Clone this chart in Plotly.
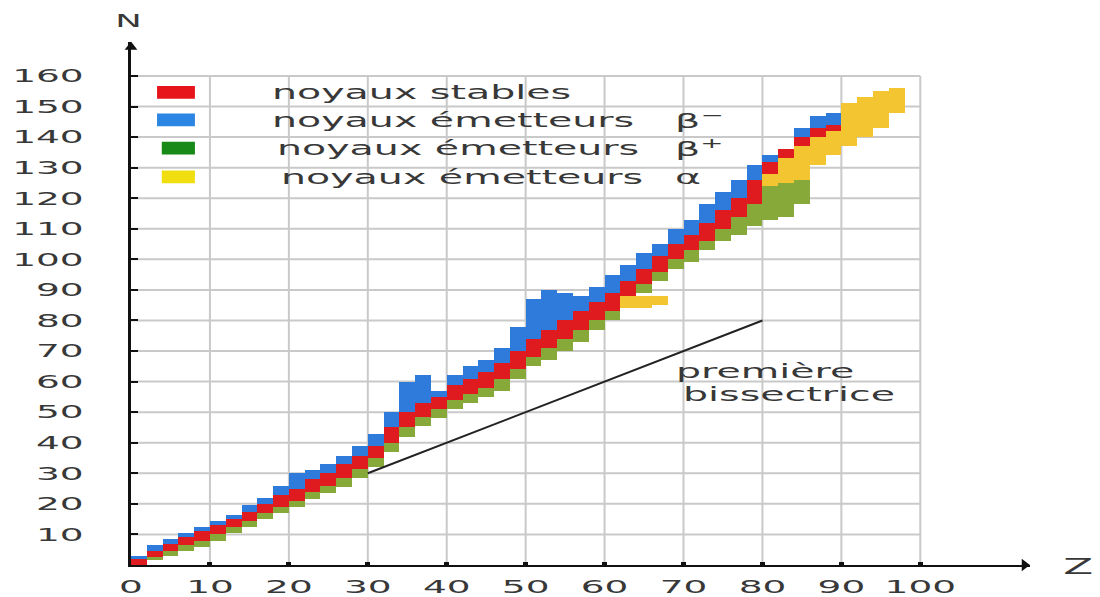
import plotly.graph_objects as go

# ---------------- data ----------------
# Z bin centres (each bar spans 2 units of Z)
Z = list(range(1, 99, 2))

# neutron-number ranges per Z bin (None = absent)
beta_plus_lo = [None, 1.5, 3, 4.5, 6, 8, 10.5, 12.5, 15, 17, 19, 21.5, 23.5, 25.5, 28.5, 32,
                37, 42, 45.5, 48, 51, 53, 55, 57, 61, 65, 67, 70, 73, 77, 80, 84,
                89, 93, 97, 99, 103, 106, 108, 111, 113, 114, 118, None, None, None, None, None, None]
beta_plus_hi = [None, 2.5, 4.5, 6.5, 8, 10, 12.5, 14.5, 17, 19, 21, 24, 26, 28.5, 31.5, 35,
                40, 45, 48.5, 51, 54, 56, 58, 61, 64, 68, 71, 74, 77, 80, 83, 87,
                92, 96, 100, 103, 106, 110, 114, 118, 124, 125, 126, None, None, None, None, None, None]

stable_lo = [0, 2.5, 4.5, 6.5, 8, 10, 12.5, 14.5, 17, 19, 21, 24, 26, 28.5, 31.5, 35,
             40, 45, 48.5, 51, 54, 56, 58, 61, 64, 68, 71, 74, 77, 80, 83, 87,
             92, 96, 100, 103, 106, 110, 114, 118, 128, 133, 137, 140, 142, None, None, None, None]
stable_hi = [2, 4.5, 7, 9, 11, 13, 15, 17.5, 20, 23, 25, 28, 30, 33, 35.5, 39,
             45, 50, 53, 55, 59, 61, 63, 66, 70, 74, 77, 80, 83, 86, 89, 93,
             97, 101, 105, 108, 112, 116, 120, 126, 132, 136, 140, 143, 144, None, None, None, None]

beta_minus_lo = [2, 4.5, 7, 9, 11, 13, 15, 17.5, 20, 23, 25, 28, 30, 33, 35.5, 39,
                 45, 50, 53, 55, 59, 61, 63, 66, 70, 74, 77, 80, 83, 86, 89, 93,
                 97, 101, 105, 108, 112, 116, 120, 126, 132, None, 140, 143, 144, None, None, None, None]
beta_minus_hi = [3, 6.5, 8.5, 10.5, 12.5, 14.5, 16.5, 19.5, 22, 26, 30, 31, 33, 35.5, 39, 43,
                 50, 60, 62, 57, 62, 65, 67, 71, 78, 87, 90, 89, 88, 91, 95, 98,
                 102, 105, 110, 113, 118, 122, 126, 131, 134, None, 143, 147, 148, None, None, None, None]

alpha_lo = [None] * 40 + [124, 125, 126, 131, 134, 137, 140, 143, 148]
alpha_hi = [None] * 40 + [128, 133, 137, 140, 142, 151, 153, 155, 156]

# small group of alpha emitters near Z = 62-68
alpha_patch_z = [63, 65, 67]
alpha_patch_lo = [84, 84, 85]
alpha_patch_hi = [88, 88, 88]

# first bisector N = Z
bisector_z = [30, 80]
bisector_n = [30, 80]

x_ticks = list(range(0, 101, 10))
y_ticks = list(range(10, 161, 10))

legend_labels = ["noyaux stables", "noyaux émetteurs", "noyaux émetteurs", "noyaux émetteurs"]
legend_symbols = ["", "β<sup>−</sup>", "β<sup>+</sup>", "α"]

# ---------------- styles ----------------
C_RED = "#e01b1f"
C_BLUE = "#2f7bdc"
C_GREEN = "#86a93a"
C_YELLOW = "#f3c530"
LEG_COLORS = ["#e8141c", "#2a86e2", "#178a17", "#f0de10"]
FONT = "DejaVu Sans"
TXT = "#383838"
AXC = "#111111"

X_MAX = 113.9
Y_MAX = 171.1


def spans(lo, hi):
    return [None if (a is None or b is None) else b - a for a, b in zip(lo, hi)]


fig = go.Figure()


def add_band(zs, lo, hi, color, name):
    fig.add_trace(go.Bar(
        x=zs, y=spans(lo, hi), base=lo, width=2, name=name,
        marker=dict(color=color, line=dict(width=0)),
        showlegend=False, hoverinfo="x+y+name",
    ))


add_band(Z, beta_plus_lo, beta_plus_hi, C_GREEN, "β+")
add_band(Z, stable_lo, stable_hi, C_RED, "stables")
add_band(Z, beta_minus_lo, beta_minus_hi, C_BLUE, "β−")
add_band(Z, alpha_lo, alpha_hi, C_YELLOW, "α")
add_band(alpha_patch_z, alpha_patch_lo, alpha_patch_hi, C_YELLOW, "α")

fig.add_trace(go.Scatter(
    x=bisector_z, y=bisector_n, mode="lines",
    line=dict(color="#222222", width=2), showlegend=False, hoverinfo="skip",
))

# arrow heads at the ends of the axes
fig.add_trace(go.Scatter(
    x=[X_MAX - 0.7], y=[0], mode="markers", cliponaxis=False,
    marker=dict(symbol="triangle-right", size=11, color=AXC), showlegend=False, hoverinfo="skip",
))
fig.add_trace(go.Scatter(
    x=[0], y=[Y_MAX - 1.6], mode="markers", cliponaxis=False,
    marker=dict(symbol="triangle-up", size=11, color=AXC), showlegend=False, hoverinfo="skip",
))

# grid lines limited to the drawn area (0..100 x 0..160)
shapes = []
for xv in x_ticks[1:]:
    shapes.append(dict(type="line", xref="x", yref="y", x0=xv, x1=xv, y0=0, y1=160,
                       line=dict(color="#c9c9c9", width=2), layer="below"))
for yv in y_ticks:
    shapes.append(dict(type="line", xref="x", yref="y", x0=0, x1=100, y0=yv, y1=yv,
                       line=dict(color="#c9c9c9", width=2), layer="below"))

# legend swatches
leg_y = [154.6, 145.6, 136.4, 127.0]
leg_x0 = [3.3, 3.3, 3.9, 3.9]
for c, yv, x0 in zip(LEG_COLORS, leg_y, leg_x0):
    shapes.append(dict(type="rect", xref="x", yref="y", x0=x0, x1=8.1, y0=yv - 2.1, y1=yv + 2.1,
                       line=dict(width=0), fillcolor=c, layer="above"))

annotations = []
leg_tx = [17.6, 17.6, 18.3, 18.8]
for lab, sym, yv, xv in zip(legend_labels, legend_symbols, leg_y, leg_tx):
    annotations.append(dict(x=xv, y=yv, xref="x", yref="y", text=lab, showarrow=False,
                            xanchor="left", yanchor="middle",
                            font=dict(family=FONT, size=19, color=TXT)))
    if sym:
        annotations.append(dict(x=68.7, y=yv, xref="x", yref="y", text=sym, showarrow=False,
                                xanchor="left", yanchor="middle",
                                font=dict(family=FONT, size=19, color=TXT)))

annotations.append(dict(x=68.8, y=63.6, xref="x", yref="y", text="première", showarrow=False,
                        xanchor="left", yanchor="middle", font=dict(family=FONT, size=19, color=TXT)))
annotations.append(dict(x=69.7, y=56.0, xref="x", yref="y", text="bissectrice", showarrow=False,
                        xanchor="left", yanchor="middle", font=dict(family=FONT, size=19, color=TXT)))

# axis names
annotations.append(dict(x=-0.003, y=1.040, xref="paper", yref="paper", text="N", showarrow=False,
                        xanchor="center", yanchor="middle", font=dict(family=FONT, size=17, color=TXT)))
annotations.append(dict(x=1.053, y=-0.004, xref="paper", yref="paper", text="Z", showarrow=False,
                        xanchor="center", yanchor="middle", font=dict(family=FONT, size=21, color=TXT)))

fig.update_layout(
    width=1100, height=597,
    margin=dict(l=131, r=70, t=42, b=32),
    paper_bgcolor="white", plot_bgcolor="white",
    barmode="overlay", bargap=0,
    showlegend=False,
    shapes=shapes, annotations=annotations,
    xaxis=dict(range=[0, X_MAX], tickvals=x_ticks, ticktext=[str(v) for v in x_ticks],
               automargin=False,
               showgrid=False, zeroline=False, showline=True, linecolor=AXC, linewidth=2,
               ticks="inside", ticklen=3, tickwidth=5, tickcolor=AXC,
               ticklabelstandoff=4,
               tickfont=dict(family=FONT, size=18, color=TXT), fixedrange=True),
    yaxis=dict(range=[0, Y_MAX], tickvals=y_ticks, ticktext=[str(v) for v in y_ticks],
               automargin=False,
               showgrid=False, zeroline=False, showline=True, linecolor=AXC, linewidth=2.5,
               ticks="inside", ticklen=7, tickwidth=2, tickcolor=AXC,
               ticklabelstandoff=41,
               tickfont=dict(family=FONT, size=18, color=TXT), fixedrange=True),
)

# page without body margin; the reference image is stretched horizontally,
# so the glyphs of every text are widened while keeping their anchor edge
post = """
document.documentElement.style.margin = '0';
document.body.style.margin = '0';
document.body.style.padding = '0';
var gd = document.getElementById('{plot_id}');
var K = 2.08;
function widenOne(t, mode) {
  if (t.getAttribute('data-wide')) return;
  var w = t.getComputedTextLength();
  if (!w) return;
  var b = t.getBBox();
  var nw = w * K;
  var left;
  if (mode === 'left') left = b.x;
  else if (mode === 'right') left = b.x + b.width - nw;
  else left = b.x + b.width / 2 - nw / 2;
  t.setAttribute('text-anchor', 'start');
  t.style.textAnchor = 'start';
  t.setAttribute('x', left.toFixed(2));
  t.setAttribute('textLength', nw.toFixed(2));
  t.setAttribute('lengthAdjust', 'spacingAndGlyphs');
  t.setAttribute('data-wide', '1');
}
gd.querySelectorAll('g.xtick text').forEach(function (t) { widenOne(t, 'center'); });
gd.querySelectorAll('g.ytick text').forEach(function (t) { widenOne(t, 'right'); });
gd.querySelectorAll('text.annotation-text').forEach(function (t) {
  var s = (t.textContent || '').trim();
  widenOne(t, (s === 'N' || s === 'Z') ? 'center' : 'left');
});
"""

fig.write_html("out.html", post_script=post, config={"displayModeBar": False})
